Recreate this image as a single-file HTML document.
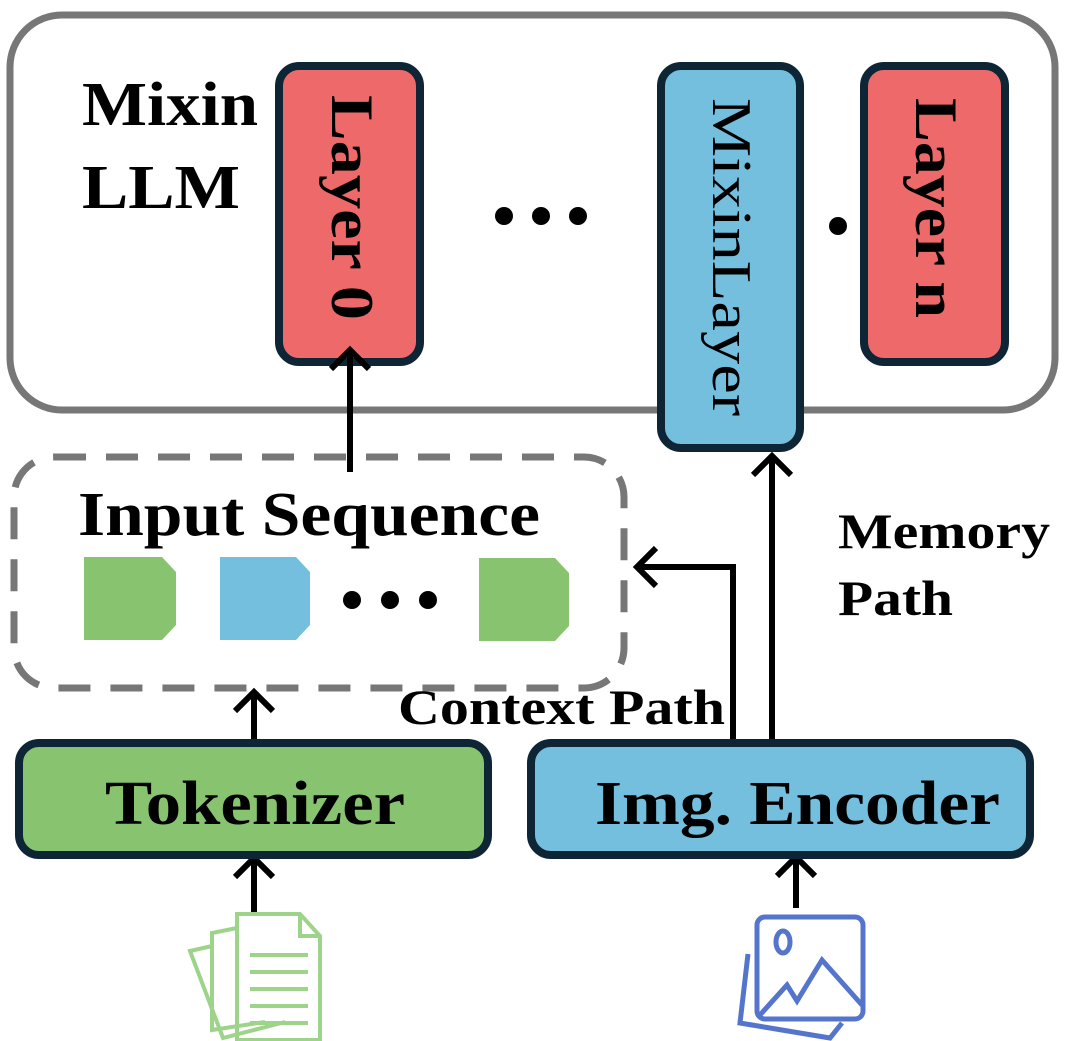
<!DOCTYPE html>
<html><head><style>
body{margin:0;background:#fff}
svg{display:block}
text{font-family:"Liberation Serif",serif;font-weight:bold;fill:#000}
</style></head><body>
<svg width="1082" height="1041" viewBox="0 0 1082 1041">
<rect x="10" y="15" width="1045" height="395" rx="52" fill="#fff" stroke="#777" stroke-width="7"/>
<text x="82" y="125" font-size="62" textLength="176" lengthAdjust="spacingAndGlyphs">Mixin</text>
<text x="82" y="208" font-size="62" textLength="158" lengthAdjust="spacingAndGlyphs">LLM</text>
<rect x="279" y="66" width="141" height="296" rx="20" fill="#EE6A6A" stroke="#0e2535" stroke-width="8"/>
<text transform="translate(332,95) rotate(90)" font-size="60" textLength="225" lengthAdjust="spacingAndGlyphs">Layer 0</text>
<g fill="#000"><circle cx="504" cy="216" r="9"/><circle cx="541" cy="216" r="9"/><circle cx="578" cy="216" r="9"/><circle cx="838" cy="226" r="9"/></g>
<rect x="661" y="66" width="139" height="382" rx="20" fill="#74BFDD" stroke="#0e2535" stroke-width="8"/>
<text transform="translate(713,98) rotate(90)" font-size="56" style="font-weight:normal" textLength="318" lengthAdjust="spacingAndGlyphs">MixinLayer</text>
<rect x="864" y="66" width="141" height="296" rx="20" fill="#EE6A6A" stroke="#0e2535" stroke-width="8"/>
<text transform="translate(916,98) rotate(90)" font-size="60" textLength="220" lengthAdjust="spacingAndGlyphs">Layer n</text>
<rect x="14" y="457" width="610" height="231" rx="40" fill="none" stroke="#777" stroke-width="7" stroke-dasharray="32,20"/>
<text x="78" y="535" font-size="62" textLength="462" lengthAdjust="spacingAndGlyphs">Input Sequence</text>
<path d="M84 557H162L176 572V625L162 640H84Z" fill="#88C46F"/>
<path d="M220 557H296L310 572V625L296 640H220Z" fill="#74BFDD"/>
<path d="M479 558H555L569 573V626L555 641H479Z" fill="#88C46F"/>
<g fill="#000"><circle cx="352" cy="600" r="9"/><circle cx="390" cy="600" r="9"/><circle cx="428" cy="600" r="9"/></g>
<g stroke="#000" stroke-width="6" fill="none">
<path d="M350 472V350"/><path d="M331 369L350 350L369 369"/>
<path d="M254 743V692"/><path d="M235 711L254 692L273 711"/>
<path d="M254 912V858"/><path d="M235 877L254 858L273 877"/>
<path d="M772 743V456"/><path d="M753 475L772 456L791 475"/>
<path d="M733 743V567H637"/><path d="M656 548L637 567L656 586"/>
<path d="M796 908V857"/><path d="M777 876L796 857L815 876"/>
</g>
<text x="398" y="724" font-size="50" textLength="327" lengthAdjust="spacingAndGlyphs">Context Path</text>
<text x="838" y="548" font-size="50" textLength="212" lengthAdjust="spacingAndGlyphs">Memory</text>
<text x="838" y="615" font-size="50" textLength="115" lengthAdjust="spacingAndGlyphs">Path</text>
<rect x="19" y="743" width="469" height="112" rx="20" fill="#88C46F" stroke="#0e2535" stroke-width="8"/>
<text x="105" y="824" font-size="62" textLength="300" lengthAdjust="spacingAndGlyphs">Tokenizer</text>
<rect x="531" y="743" width="499" height="112" rx="20" fill="#74BFDD" stroke="#0e2535" stroke-width="8"/>
<text x="595" y="824" font-size="62" textLength="405" lengthAdjust="spacingAndGlyphs">Img. Encoder</text>
<g stroke="#9ED38A" stroke-width="4" fill="none">
<path d="M237 914H300L320 936V1040H237Z"/>
<path d="M300 914V936H320"/>
<path d="M237 928L212 933V1030L265 1022"/>
<path d="M212 946L190 951L223 1038L285 1022"/>
<path d="M250 955H308M250 972H308M250 989H308M250 1006H308M250 1023H308"/>
</g>
<g stroke="#5574CC" stroke-width="5" fill="none">
<rect x="757" y="917" width="106" height="102" rx="8"/>
<ellipse cx="783" cy="942" rx="7" ry="11"/>
<path d="M760 1015L787 985L797 1001L822 960L862 1005"/>
<path d="M748 974L740 1043L830 1058L842 1043" transform="translate(0,-20)"/>
</g>
</svg>
</body></html>
